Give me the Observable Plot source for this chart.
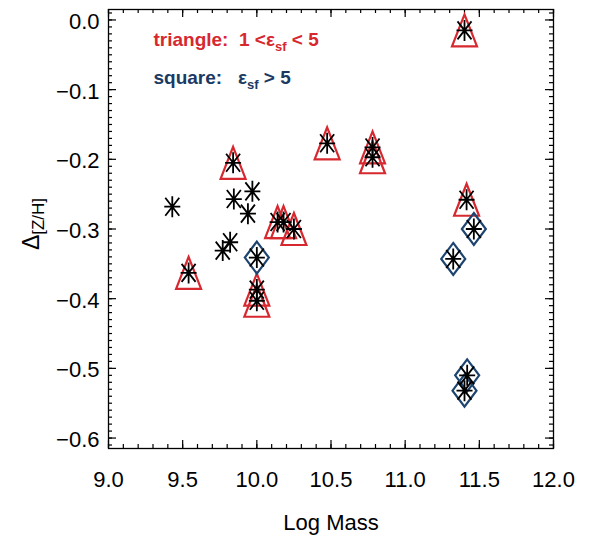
<!DOCTYPE html>
<html><head><meta charset="utf-8">
<script src="https://cdn.jsdelivr.net/npm/d3@7"></script>
<script src="https://cdn.jsdelivr.net/npm/@observablehq/plot@0.6"></script>
<style>body{margin:0;background:#fff}</style>
</head><body><div id="chart"></div>
<script>
// ---- data ----
const logMass = [9.43, 9.84, 9.845, 9.97, 9.94, 10.14, 10.18, 10.25, 9.82, 9.77, 10.00, 9.54, 10.00, 10.00, 10.474, 11.40, 10.78, 10.78, 11.414, 11.463, 11.324, 11.418, 11.40];
const deltaZH = [-0.268, -0.205, -0.257, -0.246, -0.278, -0.290, -0.290, -0.300, -0.319, -0.331, -0.341, -0.363, -0.387, -0.403, -0.177, -0.015, -0.183, -0.197, -0.258, -0.300, -0.343, -0.510, -0.532];
const group   = ["none","tri","none","none","none","tri","tri","tri","none","none","sq","tri","tri","tri","tri","tri","tri","tri","tri","sq","sq","sq","sq"];
const xTicks = [9.0, 9.5, 10.0, 10.5, 11.0, 11.5, 12.0];
const yTicks = [-0.6, -0.5, -0.4, -0.3, -0.2, -0.1, 0.0];
const xLabel = "Log Mass";
const yLabelParts = [["Δ", false], ["[Z/H]", true]];
const legendTriParts = [["triangle:  1 <ε", false], ["sf", true], [" < 5", false]];
const legendSqParts = [["square:   ε", false], ["sf", true], [" > 5", false]];

const RED = "#d7282f", BLUE = "#1d4570", NAVY = "#1b3a63";
const W = 592, H = 538, mL = 108, mR = 39, mT = 9, mB = 90;
const innerW = W - mL - mR, innerH = H - mT - mB;

const pts = logMass.map((m, i) => ({m, d: deltaZH[i], g: group[i]}));
const xMinor = d3.range(90, 121).map(i => i / 10);
const yMinor = d3.range(-61, 2).map(i => i / 100);

const asterisk = {draw(c) {
  c.moveTo(0, -10.5); c.lineTo(0, 10.5);
  c.moveTo(-8, 0); c.lineTo(8, 0);
  c.moveTo(-7, -9); c.lineTo(7, 9);
  c.moveTo(7, -9); c.lineTo(-7, 9);
}};
const triangle = {draw(c) { c.moveTo(0, -16); c.lineTo(12.5, 16); c.lineTo(-12.5, 16); c.closePath(); }};
const diamond = {draw(c) { c.moveTo(0, -16); c.lineTo(12, 0); c.lineTo(0, 16); c.lineTo(-12, 0); c.closePath(); }};

const join = parts => parts.map(p => p[0]).join("");
const fmt = d => (d < 0 ? "\u2212" : "") + Math.abs(d).toFixed(1);

const svg = Plot.plot({
  width: W, height: H,
  marginLeft: mL, marginRight: mR, marginTop: mT, marginBottom: mB,
  style: {fontFamily: "'Liberation Sans', sans-serif", fontSize: "21px", background: "white", color: "black"},
  x: {domain: [9, 12], axis: null},
  y: {domain: [-0.615, 0.015], axis: null},
  marks: [
    Plot.tickX(xMinor, {insetTop: innerH - 4, stroke: "black", strokeWidth: 1.2}),
    Plot.tickX(xMinor, {insetBottom: innerH - 4, stroke: "black", strokeWidth: 1.2}),
    Plot.tickX(xTicks, {insetTop: innerH - 8, stroke: "black", strokeWidth: 1.2}),
    Plot.tickX(xTicks, {insetBottom: innerH - 8, stroke: "black", strokeWidth: 1.2}),
    Plot.tickY(yMinor, {insetRight: innerW - 4, stroke: "black", strokeWidth: 1.2}),
    Plot.tickY(yMinor, {insetLeft: innerW - 4, stroke: "black", strokeWidth: 1.2}),
    Plot.tickY(yTicks, {insetRight: innerW - 8, stroke: "black", strokeWidth: 1.2}),
    Plot.tickY(yTicks, {insetLeft: innerW - 8, stroke: "black", strokeWidth: 1.2}),
    Plot.frame({stroke: "black", strokeWidth: 1.3}),
    Plot.axisX({ticks: xTicks, tickSize: 0, tickPadding: 23, tickFormat: d => d.toFixed(1), fontSize: 22, label: null}),
    Plot.axisY({ticks: yTicks, tickSize: 0, tickPadding: 9, tickFormat: fmt, fontSize: 22, dy: 2, label: null}),
    Plot.dot(pts.filter(p => p.g === "tri"), {x: "m", y: "d", symbol: triangle, fill: "none", stroke: RED, strokeWidth: 2.2}),
    Plot.dot(pts.filter(p => p.g === "sq"), {x: "m", y: "d", symbol: diamond, fill: "none", stroke: BLUE, strokeWidth: 2.2}),
    Plot.dot(pts, {x: "m", y: "d", symbol: asterisk, fill: "none", stroke: "black", strokeWidth: 1.8}),
    Plot.text([xLabel], {frameAnchor: "bottom", dy: 81, lineAnchor: "bottom", fontSize: 22}),
    Plot.text([join(yLabelParts)], {frameAnchor: "left", dx: -70, dy: -5, rotate: -90, lineAnchor: "bottom", textAnchor: "middle", fontSize: 23}),
    Plot.text([join(legendTriParts)], {frameAnchor: "top-left", dx: 45, dy: 36, lineAnchor: "bottom", textAnchor: "start", fill: RED, fontSize: 19, fontWeight: "bold"}),
    Plot.text([join(legendSqParts)], {frameAnchor: "top-left", dx: 45, dy: 74, lineAnchor: "bottom", textAnchor: "start", fill: NAVY, fontSize: 19, fontWeight: "bold"})
  ]
});

function rich(el, parts, subSize, shift) {
  const s = d3.select(el);
  s.style("white-space", "pre");
  s.text(null);
  let shifted = false;
  for (const [t, sub] of parts) {
    const ts = s.append("tspan").text(t);
    if (sub) { ts.attr("font-size", subSize).attr("dy", shift); shifted = true; }
    else if (shifted) { ts.attr("dy", -shift); shifted = false; }
  }
}
d3.select(svg).selectAll("text").each(function() {
  const t = this.textContent;
  if (t === join(yLabelParts)) rich(this, yLabelParts, 17, 5);
  else if (t === join(legendTriParts)) rich(this, legendTriParts, 13, 5);
  else if (t === join(legendSqParts)) rich(this, legendSqParts, 13, 5);
});
document.getElementById("chart").appendChild(svg);
</script>
</body></html>
